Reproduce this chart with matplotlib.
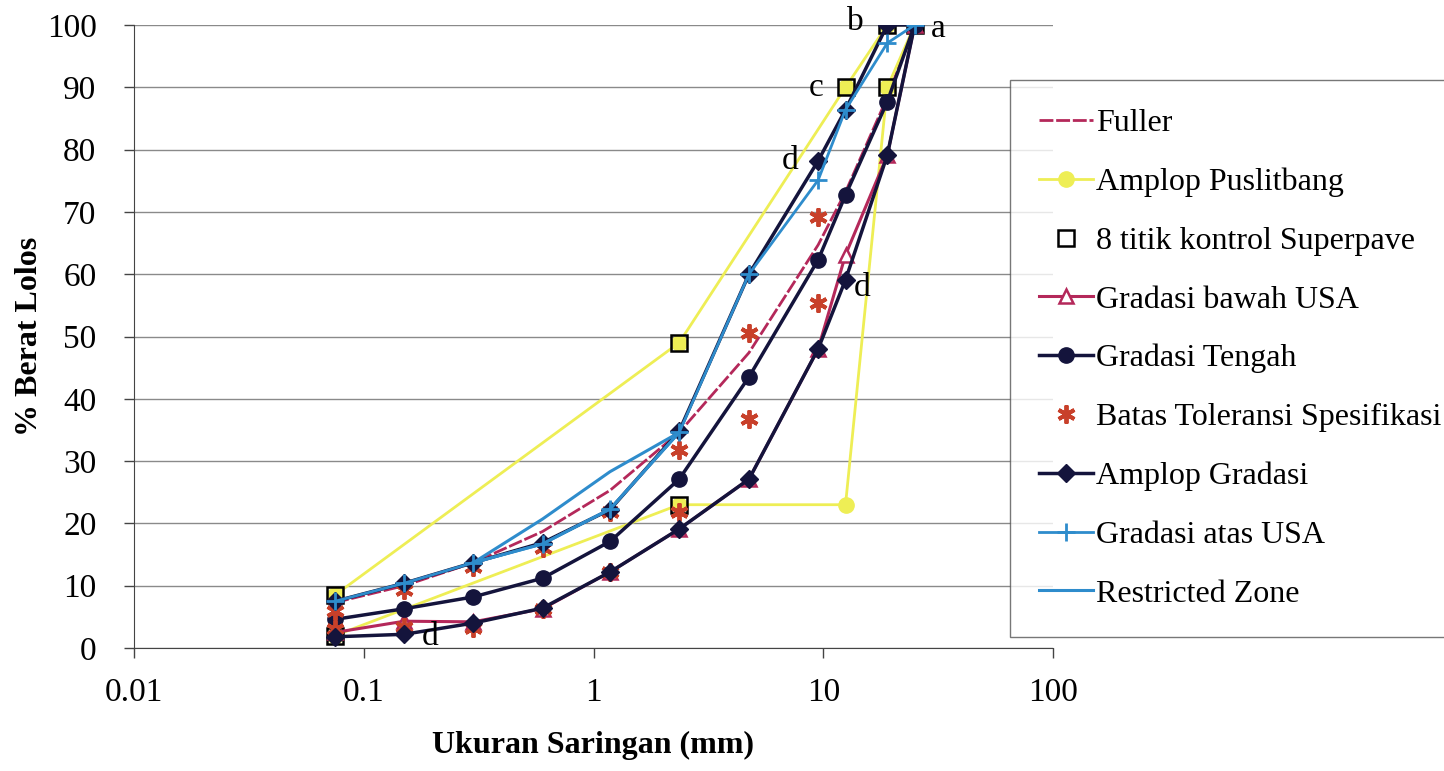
import numpy as np
import matplotlib.pyplot as plt

plt.rcParams['font.family'] = ['Liberation Serif', 'DejaVu Serif']

# Sieve sizes (mm)
sieve = [0.075, 0.15, 0.3, 0.6, 1.18, 2.36, 4.75, 9.5, 12.5, 19, 25]

# Maximum density line
fuller = [7.3, 10.0, 13.7, 18.7, 25.3, 34.6, 47.4, 64.7, 73.2, 88.4, 100]

# Puslitbang envelope, traced lower side then upper side
pusl_x = [0.075, 2.36, 12.5, 19, 25, 19, 12.5, 2.36, 0.075]
pusl_y = [2, 23, 23, 90, 100, 100, 90, 49, 8.5]

# Superpave control points
ctrl_x = [0.075, 0.075, 2.36, 2.36, 12.5, 19, 19, 25]
ctrl_y = [2, 8.5, 23, 49, 90, 90, 100, 100]

bawah_usa = [2.5, 4.3, 4.2, 6.3, 12.2, 19.1, 27.1, 48.0, 63.1, 79.1, 100]
tengah = [4.6, 6.3, 8.2, 11.2, 17.1, 27.1, 43.5, 62.3, 72.7, 87.7, 100]

# Tolerance limits around the middle gradation
tol_x = [0.075, 0.075, 0.15, 0.15, 0.3, 0.3, 0.6, 0.6, 1.18, 1.18,
         2.36, 2.36, 4.75, 4.75, 9.5, 9.5]
tol_y = [6.0, 3.0, 9.3, 3.3, 13.0, 3.2, 16.0, 6.3, 21.8, 12.2,
         31.8, 21.9, 50.6, 36.7, 69.2, 55.4]

# Gradation envelope: lower limit then upper limit back down
env_lower = [1.8, 2.2, 4.0, 6.4, 12.2, 19.1, 27.1, 48.0, 59.1, 79.1, 100]
env_upper = [7.5, 10.4, 13.7, 16.9, 22.2, 34.8, 60.0, 78.2, 86.4, 100, 100]

atas_usa = [7.5, 10.4, 13.7, 16.7, 22.3, 34.6, 60.0, 75.1, 86.4, 97.1, 100]

# Restricted zone polygon
rz_x = [0.3, 0.6, 1.18, 2.36, 1.18, 0.6, 0.3]
rz_y = [13.7, 20.7, 28.3, 34.6, 22.3, 16.7, 13.7]

navy = '#14143c'
crimson = '#b4285a'
yellow = '#eeee55'
blue = '#2e8ccc'
brick = '#c8402a'

fig = plt.figure(figsize=(14.44, 7.71), dpi=100)
ax = fig.add_axes([134 / 1444, 1 - 648 / 771, (1053 - 134) / 1444, (648 - 25) / 771])

ax.plot(sieve, fuller, color=crimson, lw=2, ls=(0, (5, 1)), label='Fuller')
ax.plot(pusl_x, pusl_y, color=yellow, lw=2, marker='o', ms=11,
        mfc=yellow, mec=yellow, label='Amplop Puslitbang')
ax.plot(ctrl_x, ctrl_y, ls='none', marker='s', ms=12, mfc='none',
        mec='black', mew=1.8, label='8 titik kontrol Superpave')
ax.plot(sieve, bawah_usa, color=crimson, lw=2.2, marker='^', ms=10,
        mfc='white', mec=crimson, mew=1.8, label='Gradasi bawah USA')
ax.plot(sieve, tengah, color=navy, lw=2.5, marker='o', ms=11,
        label='Gradasi Tengah')
ax.plot(tol_x, tol_y, ls='none', marker=(6, 2, 0), ms=13, mec=brick,
        mew=2.8, label='Batas Toleransi Spesifikasi')
ax.plot(sieve + sieve[::-1], env_lower + env_upper[::-1], color=navy,
        lw=2.5, marker='D', ms=9, label='Amplop Gradasi')
ax.plot(sieve, atas_usa, color=blue, lw=2, marker='+', ms=13, mew=2,
        label='Gradasi atas USA')
ax.plot(rz_x, rz_y, color=blue, lw=2.2, label='Restricted Zone')

# Point labels
lbl = dict(textcoords='offset points', fontsize=24, va='center', ha='center')
ax.annotate('a', xy=(25, 100), xytext=(17, -3), **lbl)
ax.annotate('b', xy=(19, 100), xytext=(-23, 2), **lbl)
ax.annotate('c', xy=(12.5, 90), xytext=(-21, 0), **lbl)
ax.annotate('d', xy=(9.5, 78.2), xytext=(-20, 0), **lbl)
ax.annotate('d', xy=(12.5, 59.1), xytext=(12, -6), **lbl)
ax.annotate('d', xy=(0.15, 2.2), xytext=(19, -2), **lbl)

ax.set_xscale('log')
ax.set_xlim(0.01, 100)
ax.set_ylim(0, 100)
ax.set_xticks([0.01, 0.1, 1, 10, 100])
ax.set_xticklabels(['0.01', '0.1', '1', '10', '100'])
ax.xaxis.set_minor_locator(plt.NullLocator())
ax.set_yticks(np.arange(0, 101, 10))
ax.tick_params(axis='both', labelsize=24, length=7, width=1, color='#444444',
               direction='out')
ax.tick_params(axis='x', pad=14)
ax.tick_params(axis='y', pad=20)
ax.yaxis.grid(True, color='#8a8a8a', lw=1)
ax.set_axisbelow(True)
for side in ['top', 'right']:
    ax.spines[side].set_visible(False)
for side in ['left', 'bottom']:
    ax.spines[side].set_color('#444444')

ax.set_xlabel('Ukuran Saringan (mm)', fontsize=23, fontweight='bold', va='center')
ax.set_ylabel('% Berat Lolos', fontsize=23, fontweight='bold', va='center')
ax.xaxis.set_label_coords(0.5, (648 - 745) / 623)
ax.yaxis.set_label_coords((30 - 134) / 919, 0.5)

leg = fig.legend(loc='upper left', bbox_to_anchor=(1010 / 1444, 1 - 80 / 771),
                 fontsize=23, frameon=True, fancybox=False, edgecolor='#555555',
                 handlelength=1.7, handletextpad=0.1, labelspacing=0.92,
                 borderpad=0.9, borderaxespad=0)
leg.get_frame().set_linewidth(1)

fig.savefig('out.png', dpi=100)
